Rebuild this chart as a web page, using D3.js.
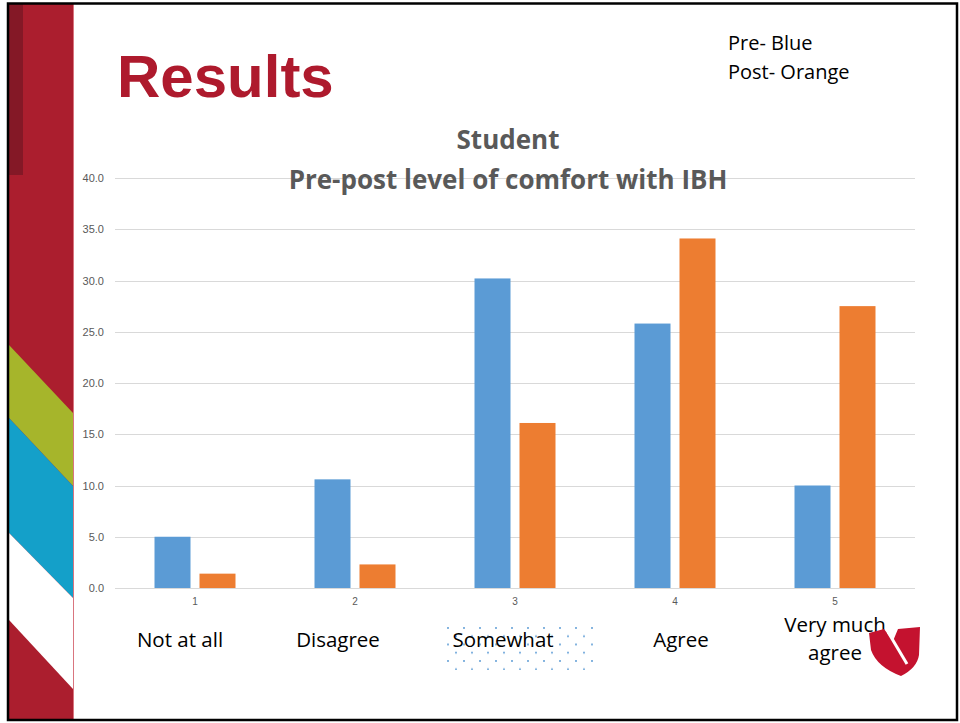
<!DOCTYPE html>
<meta charset="utf-8">
<style>

body {
  margin: 0;
  background: #fff;
}

svg {
  display: block;
  font-family: "Open Sans", sans-serif;
}

.grid line {
  stroke: #d9d9d9;
  stroke-width: 1px;
}

.axis text {
  fill: #595959;
}

.axis path,
.axis line {
  display: none;
}

.cat-label {
  font-size: 20.5px;
  fill: #000;
  text-anchor: middle;
}

</style>
<svg width="960" height="723"></svg>
<script src="https://cdn.jsdelivr.net/npm/d3@7"></script>
<script>

var categories = ["1", "2", "3", "4", "5"];
var catLabels = [["Not at all"], ["Disagree"], ["Somewhat"], ["Agree"], ["Very much", "agree"]];
var preValues = [5.0, 10.6, 30.2, 25.8, 10.0];
var postValues = [1.4, 2.3, 16.1, 34.1, 27.5];
var series = ["pre", "post"];
var yTicks = [0, 5, 10, 15, 20, 25, 30, 35, 40];

var svg = d3.select("svg"),
    width = +svg.attr("width"),
    height = +svg.attr("height");

var colors = {pre: "#5b9bd5", post: "#ed7d31"};

// --- slide background: left banner ---
var banner = svg.append("g");
banner.append("rect").attr("x", 9).attr("y", 4).attr("width", 64).attr("height", 716).attr("fill", "#ab1e2e");
banner.append("rect").attr("x", 9).attr("y", 4).attr("width", 14).attr("height", 171).attr("fill", "#841826");
banner.append("path").attr("d", "M9,345 L73,413 L73,486 L9,418 Z").attr("fill", "#a6b52b");
banner.append("path").attr("d", "M9,418 L73,486 L73,598 L9,533 Z").attr("fill", "#14a0c9");
banner.append("path").attr("d", "M9,533 L73,598 L73,689 L9,620 Z").attr("fill", "#ffffff");
banner.append("line").attr("x1", 73.5).attr("x2", 73.5).attr("y1", 4).attr("y2", 720)
    .attr("stroke", "#d9757f").attr("stroke-width", 1);

// slide frame
svg.append("rect")
    .attr("x", 8).attr("y", 3.5).attr("width", 949).attr("height", 716.5)
    .attr("fill", "none").attr("stroke", "#000").attr("stroke-width", 2.5);

// heading
svg.append("text")
    .attr("x", 117).attr("y", 97)
    .attr("fill", "#ae1a2d")
    .style("font-family", "'Liberation Sans', Arial, sans-serif")
    .style("font-weight", "bold")
    .style("font-size", "60px")
    .text("Results");

svg.append("text")
    .attr("x", 728).attr("y", 50)
    .style("font-size", "20px")
    .text("Pre- Blue");
svg.append("text")
    .attr("x", 728).attr("y", 79)
    .style("font-size", "20px")
    .text("Post- Orange");

// --- chart ---
var x = d3.scaleBand().domain(categories).range([115, 915]);
var xs = d3.scaleBand().domain(series).range([0, x.bandwidth()]).paddingInner(0.2).paddingOuter(0.878);
var y = d3.scaleLinear().domain([0, 40]).range([588, 178]);

svg.append("g")
    .attr("class", "grid")
  .selectAll("line")
    .data(yTicks)
  .enter().append("line")
    .attr("x1", 115).attr("x2", 915)
    .attr("y1", function(d) { return Math.round(y(d)) + 0.5; })
    .attr("y2", function(d) { return Math.round(y(d)) + 0.5; });

svg.append("g")
    .attr("class", "axis")
    .attr("transform", "translate(115,0)")
    .call(d3.axisLeft(y).tickValues(yTicks).tickFormat(d3.format(".1f")).tickSize(0).tickPadding(11))
    .selectAll("text").style("font-size", "11px");

svg.append("g")
    .attr("class", "axis")
    .attr("transform", "translate(0,588)")
    .call(d3.axisBottom(x).tickSize(0).tickPadding(10))
    .selectAll("text").style("font-size", "10px");

var rows = categories.map(function(c, i) { return {cat: c, pre: preValues[i], post: postValues[i]}; });

var group = svg.append("g")
  .selectAll("g")
    .data(rows)
  .enter().append("g")
    .attr("transform", function(d) { return "translate(" + x(d.cat) + ",0)"; });

group.selectAll("rect")
    .data(function(d) { return series.map(function(s) { return {key: s, value: d[s]}; }); })
  .enter().append("rect")
    .attr("x", function(d) { return xs(d.key); })
    .attr("width", xs.bandwidth())
    .attr("y", function(d) { return y(d.value); })
    .attr("height", function(d) { return y(0) - y(d.value); })
    .attr("fill", function(d) { return colors[d.key]; });

// chart title
var title = svg.append("text")
    .attr("text-anchor", "middle")
    .attr("fill", "#595959")
    .style("font-weight", "bold")
    .style("font-size", "26px");
title.append("tspan").attr("x", 508).attr("y", 149).text("Student");
title.append("tspan").attr("x", 508).attr("y", 189).text("Pre-post level of comfort with IBH");

// dotted box behind "Somewhat"
var defs = svg.append("defs");
var pat = defs.append("pattern")
    .attr("id", "dots").attr("patternUnits", "userSpaceOnUse")
    .attr("x", 447).attr("y", 627).attr("width", 16).attr("height", 16.5);
pat.append("circle").attr("cx", 1).attr("cy", 1).attr("r", 1).attr("fill", "#5b9bd5");
pat.append("circle").attr("cx", 9).attr("cy", 9.25).attr("r", 1).attr("fill", "#5b9bd5");
svg.append("rect")
    .attr("x", 446).attr("y", 626).attr("width", 150).attr("height", 44)
    .attr("fill", "url(#dots)");

// category text labels under the axis
var labelShift = [-15, -17, -12, 6, 0];
var lab = svg.append("g")
  .selectAll("text")
    .data(catLabels)
  .enter().append("text")
    .attr("class", "cat-label");

lab.each(function(lines, i) {
  var cx = x(categories[i]) + x.bandwidth() / 2 + labelShift[i];
  var y0 = lines.length > 1 ? 632 : 647;
  var t = d3.select(this);
  lines.forEach(function(l, j) {
    t.append("tspan").attr("x", cx).attr("y", y0 + j * 28).text(l);
  });
});

// logo
var logo = svg.append("g");
logo.append("path")
    .attr("d", "M869,633 L884,629 L893,641 L898,629 L920,627 L919,655 Q917,668 901,676 Q877,667 871,650 Z")
    .attr("fill", "#c4122f");
logo.append("line")
    .attr("x1", 888).attr("y1", 632).attr("x2", 907).attr("y2", 664)
    .attr("stroke", "#fff").attr("stroke-width", 3);

</script>
